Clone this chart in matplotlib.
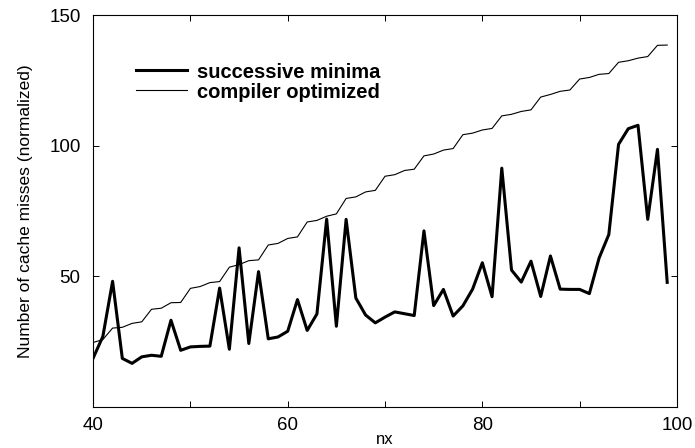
import matplotlib
matplotlib.use("Agg")
import matplotlib.pyplot as plt
from matplotlib.ticker import FixedLocator

plt.rcParams['font.family'] = ['Liberation Sans', 'DejaVu Sans']

nx = list(range(40, 100))

successive_minima = [
    18.7, 27.0, 48.1, 18.6, 16.7, 19.2, 19.8, 19.4, 33.2, 21.7,
    23.0, 23.2, 23.3, 45.5, 22.1, 60.9, 24.3, 51.8, 26.1, 26.8,
    29.0, 41.1, 29.3, 35.6, 71.9, 30.9, 71.8, 41.7, 35.2, 32.2,
    34.4, 36.4, 35.7, 35.0, 67.4, 38.8, 45.0, 34.8, 38.7, 45.1,
    55.2, 42.2, 91.4, 52.4, 47.8, 55.8, 42.3, 57.8, 45.1, 45.0,
    45.0, 43.4, 57.0, 66.0, 100.5, 106.5, 107.8, 71.8, 98.6, 47.7,
]

compiler_optimized = [
    24.7, 25.8, 30.2, 30.5, 32.0, 32.6, 37.4, 37.8, 39.9, 40.0,
    45.4, 46.1, 47.6, 48.0, 53.5, 54.5, 56.0, 56.3, 62.0, 62.6,
    64.5, 65.1, 70.8, 71.4, 73.0, 73.9, 79.8, 80.4, 82.3, 82.9,
    88.3, 88.9, 90.5, 91.0, 96.1, 96.8, 98.3, 98.9, 104.2, 104.8,
    106.0, 106.6, 111.4, 112.0, 113.1, 113.7, 118.6, 119.6, 120.8, 121.3,
    125.5, 126.1, 127.3, 127.6, 131.9, 132.5, 133.5, 134.1, 138.4, 138.5,
]

x_ticks = [40, 60, 80, 100]
x_minor = [50, 70, 90]
y_ticks = [50, 100, 150]

fig = plt.figure(figsize=(6.95, 4.48), dpi=100)
ax = fig.add_axes([0.134, 0.0915, 0.840, 0.875])

ax.plot(nx, successive_minima, color='black', lw=2.2, label='successive minima')
ax.plot(nx, compiler_optimized, color='black', lw=0.8, label='compiler optimized')

ax.set_xlim(40, 100)
ax.set_ylim(0, 150)
ax.xaxis.set_major_locator(FixedLocator(x_ticks))
ax.xaxis.set_minor_locator(FixedLocator(x_minor))
ax.yaxis.set_major_locator(FixedLocator(y_ticks))
ax.tick_params(which='both', direction='in', top=True, right=True,
               length=4, width=0.7, labelsize=13.5)
ax.tick_params(axis='x', pad=7)
ax.tick_params(axis='y', pad=9)
for s in ax.spines.values():
    s.set_linewidth(0.8)

ax.set_xlabel('nx', fontsize=12, labelpad=-1)
ax.set_ylabel('Number of cache misses (normalized)', fontsize=12.5, labelpad=12)

ax.legend(loc='upper left', bbox_to_anchor=(0.043, 0.925), frameon=False,
          handlelength=2.5, handletextpad=0.5, labelspacing=0.05,
          prop={'size': 14.5, 'weight': 'bold'})

fig.savefig('out.png', dpi=100)
